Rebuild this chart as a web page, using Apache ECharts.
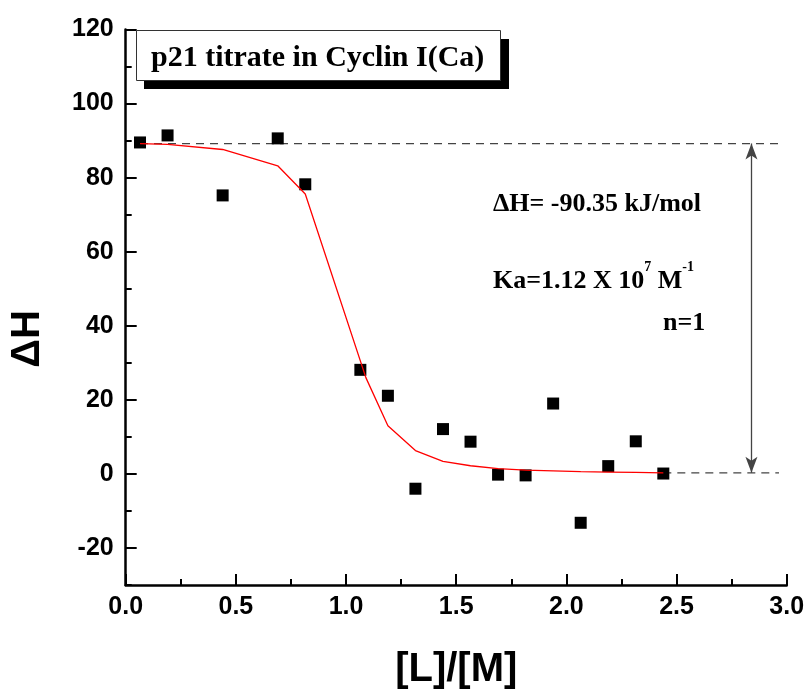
<!DOCTYPE html>
<html>
<head>
<meta charset="utf-8">
<script src="https://cdn.jsdelivr.net/npm/echarts@6/dist/echarts.min.js"></script>
<style>html,body{margin:0;padding:0;background:#fff}#c{width:811px;height:695px}</style>
</head>
<body>
<div id="c"></div>
<script>
// measured points: [L]/[M] ratio and ΔH
const ratioX = [0.065, 0.19, 0.44, 0.69, 0.815, 1.065, 1.19, 1.315, 1.44, 1.565, 1.69, 1.815, 1.94, 2.065, 2.19, 2.315, 2.44];
const deltaH = [89.5, 91.4, 75.2, 90.6, 78.2, 28.1, 21.1, -4.0, 12.1, 8.7, -0.2, -0.4, 19.0, -13.2, 2.1, 8.8, 0.1];
// fitted curve
const fitX = [0.065, 0.19, 0.44, 0.69, 0.815, 1.09, 1.19, 1.315, 1.44, 1.565, 1.69, 1.815, 1.94, 2.065, 2.19, 2.315, 2.44];
const fitY = [89.2, 89.0, 87.6, 83.2, 75.6, 26.0, 13.0, 6.3, 3.4, 2.2, 1.4, 1.0, 0.8, 0.6, 0.5, 0.4, 0.3];
// reference levels
const topLevel = 89.2, bottomLevel = 0.3;
const topLineX = [0.065, 2.965];
const bottomLineX = [2.44, 2.965];
const arrowX = 2.84;
// tick labels
const yLabelValues = [-20, 0, 20, 40, 60, 80, 100, 120];
const yMinorValues = [-30, -10, 10, 30, 50, 70, 90, 110];

const zip = (xs, ys) => xs.map((x, i) => [x, ys[i]]);

const chart = echarts.init(document.getElementById('c'), null, {renderer: 'canvas'});
const sans = 'Liberation Sans, Arial, sans-serif';
const axisFont = {fontFamily: sans, fontWeight: 'bold', fontSize: 25, color: '#000'};
const serif = 'Liberation Serif, Times New Roman, serif';

chart.setOption({
  animation: false,
  backgroundColor: '#fff',
  grid: {left: 125.7, right: 24.3, top: 29.5, bottom: 108.3, containLabel: false},
  xAxis: {
    type: 'value', min: 0, max: 3, interval: 0.5,
    name: '[L]/[M]', nameLocation: 'middle', nameGap: 65,
    nameTextStyle: {fontFamily: sans, fontWeight: 'bold', fontSize: 40, color: '#000'},
    axisLine: {show: true, onZero: false, lineStyle: {color: '#000', width: 2.5}},
    axisTick: {show: true, inside: true, length: 11, lineStyle: {color: '#000', width: 2}},
    minorTick: {show: true, splitNumber: 2, length: 6, lineStyle: {color: '#000', width: 2}},
    axisLabel: Object.assign({margin: 10, formatter: v => v.toFixed(1)}, axisFont),
    splitLine: {show: false}, minorSplitLine: {show: false}
  },
  yAxis: [{
    type: 'value', min: -30, max: 120, interval: 10,
    axisLine: {show: true, onZero: false, lineStyle: {color: '#000', width: 2.5}},
    axisTick: {show: true, inside: true, length: 11, customValues: yLabelValues, lineStyle: {color: '#000', width: 2}},
    axisLabel: Object.assign({margin: 12, customValues: yLabelValues}, axisFont),
    splitLine: {show: false}
  }, {
    type: 'value', min: -30, max: 120, interval: 10, position: 'left', offset: 0,
    axisLine: {show: false},
    axisTick: {show: true, inside: true, length: 6, customValues: yMinorValues, lineStyle: {color: '#000', width: 2}},
    axisLabel: {show: false},
    splitLine: {show: false}
  }],
  series: [
    {
      type: 'line', data: zip(topLineX, topLineX.map(() => topLevel)), symbol: 'none',
      lineStyle: {color: '#444', width: 1.3, type: [8, 6]}, z: 1,
      markLine: {
        silent: true, symbol: ['arrow', 'arrow'], symbolSize: [9, 16],
        label: {show: false},
        lineStyle: {color: '#444', width: 1.3, type: 'solid'},
        data: [[{coord: [arrowX, bottomLevel]}, {coord: [arrowX, topLevel]}]]
      }
    },
    {
      type: 'line', data: zip(bottomLineX, bottomLineX.map(() => bottomLevel)), symbol: 'none',
      lineStyle: {color: '#444', width: 1.3, type: [8, 6]}, z: 1
    },
    {
      type: 'line', data: zip(fitX, fitY), symbol: 'none',
      lineStyle: {color: '#ff0000', width: 1.3}, z: 3
    },
    {
      type: 'scatter', data: zip(ratioX, deltaH), symbol: 'rect', symbolSize: 12,
      itemStyle: {color: '#000', opacity: 1}, z: 2
    }
  ],
  graphic: [
    {type: 'text', x: 28, y: 339, rotation: Math.PI / 2, z: 12, style: {text: 'ΔH', font: 'bold 40px ' + sans, fill: '#000', textAlign: 'center', textVerticalAlign: 'middle'}},
    {type: 'rect', shape: {x: 144, y: 39, width: 365, height: 50}, style: {fill: '#000'}, z: 10},
    {type: 'rect', shape: {x: 136.5, y: 30.5, width: 364, height: 50}, style: {fill: '#fff', stroke: '#333', lineWidth: 1}, z: 11},
    {type: 'text', x: 151, y: 58, z: 12, style: {text: 'p21 titrate in Cyclin I(Ca)', font: 'bold 30px ' + serif, fill: '#000', textVerticalAlign: 'middle'}},
    {type: 'text', x: 493, y: 204.5, z: 12, style: {text: 'ΔH= -90.35 kJ/mol', font: 'bold 26px ' + serif, fill: '#000', textVerticalAlign: 'middle'}},
    {type: 'text', x: 493, y: 274.5, z: 12, style: {
      text: '{b|Ka=1.12 X 10}{s|7}{b| M}{s|-1}', textVerticalAlign: 'middle',
      rich: {
        b: {fontFamily: serif, fontWeight: 'bold', fontSize: 26, color: '#000', verticalAlign: 'bottom', height: 30},
        s: {fontFamily: serif, fontWeight: 'bold', fontSize: 14, color: '#000', verticalAlign: 'top', height: 30, padding: [0, 0, 14, 0]}
      }
    }},
    {type: 'text', x: 663, y: 323, z: 12, style: {text: 'n=1', font: 'bold 26px ' + serif, fill: '#000', textVerticalAlign: 'middle'}}
  ]
});
</script>
</body>
</html>
